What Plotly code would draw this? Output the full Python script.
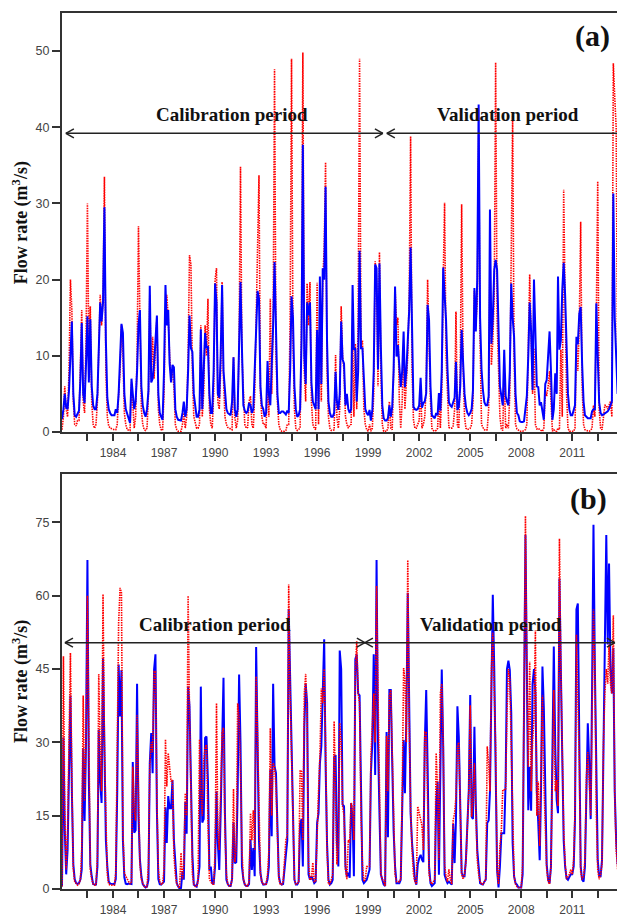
import pandas as pd
import plotly.graph_objects as go

# ---------------- data (monthly, Jan 1981 - Sep 2013) ----------------
start_month = "1981-01-01"

a_sim = [
    1.7, 3.0, 5.0, 3.2, 3.0, 5.5, 10.0, 14.5, 5.0, 2.2, 2.0, 2.5,      # 1981
    2.8, 7.0, 14.3, 5.0, 3.8, 9.0, 15.2, 6.5, 14.8, 6.0, 3.5, 3.0,     # 1982
    3.0, 5.0, 10.0, 17.0, 14.5, 17.0, 29.5, 12.0, 4.5, 3.0, 2.5, 2.2,  # 1983
    2.2, 2.2, 3.0, 2.5, 5.0, 9.0, 14.2, 13.0, 5.0, 3.0, 2.5, 1.8,      # 1984
    1.2, 7.0, 5.0, 3.0, 4.0, 8.0, 14.0, 16.0, 6.0, 3.5, 2.5, 2.0,      # 1985
    3.0, 5.5, 19.2, 6.5, 7.0, 9.0, 12.0, 15.3, 5.0, 2.5, 2.0, 1.6,     # 1986
    8.0, 19.3, 14.0, 16.0, 9.0, 6.5, 8.8, 8.5, 3.0, 2.0, 1.6, 1.5,     # 1987
    1.5, 2.5, 4.0, 2.0, 3.0, 8.0, 15.3, 11.0, 10.5, 5.0, 3.0, 2.0,     # 1988
    2.0, 3.0, 13.5, 3.0, 8.0, 13.0, 11.0, 11.3, 5.0, 2.5, 2.5, 8.0,    # 1989
    19.5, 17.0, 5.0, 4.5, 10.0, 19.3, 8.0, 5.0, 3.0, 2.5, 2.3, 2.2,    # 1990
    4.0, 9.8, 3.0, 2.0, 3.0, 10.0, 19.7, 11.0, 3.5, 2.8, 2.5, 2.7,     # 1991
    3.8, 3.5, 2.5, 3.0, 8.0, 12.0, 18.5, 17.5, 6.0, 3.5, 3.0, 2.0,     # 1992
    2.5, 9.3, 5.0, 3.5, 8.0, 14.0, 22.3, 14.5, 5.0, 2.5, 2.5, 2.7,     # 1993
    2.7, 2.5, 2.3, 2.8, 2.5, 8.0, 17.8, 15.0, 6.0, 3.0, 2.0, 2.2,      # 1994
    3.0, 12.0, 37.7, 10.0, 6.3, 17.0, 15.3, 17.0, 6.5, 4.0, 3.5, 3.0,  # 1995
    13.4, 3.0, 20.4, 6.3, 21.5, 20.0, 32.2, 12.0, 4.0, 2.5, 2.0, 2.0,  # 1996
    2.5, 7.9, 4.0, 2.9, 5.0, 14.5, 9.5, 9.0, 3.5, 5.0, 3.0, 2.5,       # 1997
    3.0, 19.3, 10.8, 11.0, 4.0, 8.0, 23.8, 11.0, 11.0, 6.0, 3.0, 2.5,  # 1998
    2.2, 2.9, 1.5, 2.9, 8.0, 22.0, 21.5, 8.2, 22.1, 11.2, 3.5, 1.8,    # 1999
    1.5, 1.5, 1.8, 3.5, 2.0, 3.3, 8.0, 19.1, 9.9, 11.4, 8.5, 5.9,      # 2000
    8.0, 13.2, 5.9, 8.0, 12.0, 16.0, 24.2, 10.8, 3.3, 3.0, 2.9, 3.0,   # 2001
    3.5, 7.1, 3.2, 3.8, 4.0, 5.1, 16.7, 14.7, 6.0, 2.2, 2.0, 1.8,      # 2002
    2.5, 2.2, 5.1, 2.8, 8.0, 21.6, 18.0, 14.7, 8.2, 3.9, 3.5, 3.3,     # 2003
    3.9, 4.5, 9.2, 2.9, 3.3, 6.0, 13.4, 9.4, 5.0, 3.3, 2.5, 2.2,       # 2004
    2.5, 3.0, 5.5, 18.9, 13.2, 20.0, 43.0, 15.0, 8.2, 5.5, 3.9, 3.5,   # 2005
    3.5, 4.7, 29.2, 11.6, 15.0, 21.3, 22.6, 21.3, 10.8, 6.0, 4.7, 3.5, # 2006
    10.8, 4.7, 4.0, 3.5, 8.0, 19.5, 15.0, 12.5, 5.0, 2.5, 2.2, 1.4,    # 2007
    1.3, 1.3, 1.4, 3.0, 4.7, 10.0, 17.0, 13.2, 5.5, 20.0, 10.8, 6.0,   # 2008
    5.9, 3.5, 3.9, 2.7, 1.6, 6.3, 6.8, 10.0, 13.2, 8.0, 1.6, 3.0,      # 2009
    7.7, 5.0, 20.4, 10.8, 12.0, 18.7, 22.2, 18.0, 12.5, 5.0, 2.9, 2.2, # 2010
    2.2, 2.9, 3.5, 12.5, 11.5, 15.5, 16.4, 9.0, 4.0, 2.2, 2.0, 1.8,    # 2011
    1.8, 1.8, 2.7, 3.0, 3.0, 16.9, 10.0, 3.9, 2.5, 2.2, 2.3, 2.4,      # 2012
    2.5, 2.7, 3.0, 3.5, 4.0, 31.3, 15.0, 10.0, 5.0,                    # 2013
]

a_obs = [
    0.3, 2.0, 6.0, 3.0, 2.0, 8.0, 20.0, 16.0, 4.0, 1.0, 0.8, 1.5,      # 1981
    1.5, 8.0, 16.0, 4.0, 2.5, 12.0, 30.0, 10.0, 16.5, 4.0, 1.0, 0.5,   # 1982
    1.0, 4.0, 10.0, 18.0, 14.0, 17.5, 33.5, 8.0, 2.0, 0.8, 0.5, 0.4,   # 1983
    0.3, 0.3, 0.3, 1.0, 5.0, 8.0, 14.0, 10.0, 2.5, 1.0, 0.3, 0.2,      # 1984
    0.2, 6.5, 3.5, 0.5, 2.0, 10.0, 27.0, 15.0, 3.0, 1.0, 0.3, 0.2,     # 1985
    0.5, 5.0, 18.0, 7.0, 12.5, 7.0, 12.0, 15.0, 3.0, 1.0, 0.3, 0.2,    # 1986
    5.0, 16.0, 18.0, 15.0, 10.0, 7.0, 8.0, 6.0, 1.0, 0.3, 0.1, 0.1,    # 1987
    0.1, 1.0, 2.5, 0.5, 2.0, 10.0, 23.2, 22.0, 8.0, 2.0, 1.0, 0.5,     # 1988
    0.5, 1.0, 14.0, 2.0, 5.0, 14.0, 10.0, 17.5, 3.0, 1.0, 0.5, 5.0,    # 1989
    20.0, 21.5, 4.0, 3.0, 8.0, 19.7, 7.0, 2.0, 1.0, 0.6, 0.5, 0.4,     # 1990
    0.3, 9.8, 2.0, 0.5, 1.5, 12.0, 34.8, 10.0, 4.0, 1.0, 0.5, 0.6,     # 1991
    4.0, 4.7, 1.0, 0.5, 5.0, 15.0, 20.0, 33.7, 5.0, 2.0, 1.0, 1.0,     # 1992
    0.5, 8.0, 2.0, 17.5, 5.0, 14.0, 47.6, 10.0, 4.0, 1.0, 0.3, 0.1,    # 1993
    0.1, 0.1, 0.2, 1.0, 1.0, 15.0, 49.0, 12.0, 3.0, 0.5, 0.2, 0.3,     # 1994
    0.5, 15.0, 49.8, 8.0, 4.0, 19.5, 14.0, 19.7, 4.0, 1.0, 0.5, 0.3,   # 1995
    19.6, 1.0, 15.0, 4.0, 20.0, 24.0, 35.4, 8.0, 2.0, 0.5, 0.2, 0.2,   # 1996
    0.3, 10.1, 2.0, 0.5, 3.0, 16.5, 10.0, 8.0, 2.0, 1.0, 0.5, 0.9,     # 1997
    1.0, 14.0, 2.0, 11.6, 3.0, 15.0, 49.0, 11.2, 12.0, 3.0, 1.0, 0.3,  # 1998
    0.1, 1.0, 0.1, 0.5, 5.0, 22.4, 20.0, 6.0, 23.6, 8.0, 1.0, 0.1,     # 1999
    0.1, 0.1, 0.5, 4.0, 0.5, 0.3, 8.0, 19.0, 14.0, 15.0, 4.0, 0.5,     # 2000
    4.0, 11.1, 3.0, 6.0, 10.0, 18.0, 38.8, 8.0, 1.5, 0.5, 0.5, 1.0,    # 2001
    1.5, 6.0, 0.5, 1.0, 2.0, 6.0, 20.0, 12.0, 4.0, 0.5, 0.2, 0.1,      # 2002
    0.2, 0.5, 4.5, 0.5, 5.0, 20.0, 30.1, 10.0, 4.0, 0.6, 0.5, 0.5,     # 2003
    0.8, 3.0, 15.8, 0.8, 0.5, 8.0, 29.9, 8.8, 2.0, 0.5, 0.3, 0.4,      # 2004
    0.5, 1.0, 4.0, 18.5, 14.2, 17.0, 39.0, 12.0, 1.0, 0.6, 0.3, 0.2,   # 2005
    0.3, 3.0, 23.0, 8.8, 12.0, 18.0, 48.5, 15.0, 8.0, 2.0, 0.4, 0.2,   # 2006
    8.0, 0.5, 1.0, 0.5, 5.0, 20.0, 41.5, 10.0, 1.0, 0.4, 0.2, 0.1,     # 2007
    0.1, 0.1, 0.2, 0.3, 1.0, 12.0, 20.7, 13.0, 5.0, 11.0, 1.0, 0.4,    # 2008
    0.5, 0.3, 0.2, 0.1, 0.5, 5.5, 4.7, 6.0, 8.0, 3.0, 0.1, 0.3,        # 2009
    0.1, 0.1, 0.5, 0.3, 10.8, 2.0, 31.8, 17.0, 5.0, 0.5, 0.1, 0.1,     # 2010
    0.1, 0.1, 0.5, 11.5, 8.0, 14.0, 27.6, 6.0, 1.0, 0.3, 0.2, 0.1,     # 2011
    0.1, 0.2, 0.5, 3.5, 2.0, 15.0, 32.9, 3.0, 0.5, 0.3, 2.5, 3.5,      # 2012
    3.5, 3.0, 3.5, 4.0, 2.0, 48.4, 44.0, 40.0, 10.0,                   # 2013
]

b_sim = [
    0.5, 31.0, 12.0, 3.0, 8.0, 25.0, 39.6, 20.0, 5.0, 2.0, 1.2, 1.0,    # 1981
    1.2, 2.0, 4.0, 28.8, 13.9, 30.0, 67.3, 22.0, 5.0, 2.6, 1.0, 0.9,    # 1982
    0.9, 4.6, 32.6, 22.0, 17.6, 47.2, 28.0, 10.0, 4.6, 1.5, 1.1, 1.0,   # 1983
    1.0, 1.0, 2.0, 20.0, 45.9, 35.3, 44.8, 10.0, 2.4, 1.1, 1.0, 1.1,    # 1984
    1.0, 1.0, 26.0, 11.5, 12.0, 42.0, 15.0, 6.0, 2.6, 1.0, 0.6, 0.3,    # 1985
    0.5, 1.9, 25.7, 31.9, 23.7, 44.9, 48.0, 16.0, 2.0, 1.0, 0.9, 1.2,   # 1986
    1.5, 16.7, 9.4, 19.0, 16.5, 16.5, 22.3, 10.0, 4.6, 1.2, 0.5, 0.1,   # 1987
    0.2, 3.6, 1.9, 17.8, 11.3, 41.4, 37.4, 22.0, 7.0, 0.9, 0.6, 0.5,    # 1988
    1.9, 4.6, 41.4, 13.6, 14.3, 30.9, 31.2, 22.0, 3.9, 4.6, 1.2, 1.0,   # 1989
    4.6, 20.0, 9.4, 3.9, 15.5, 30.0, 43.2, 15.5, 1.9, 1.0, 0.6, 0.6,    # 1990
    2.0, 13.6, 5.3, 5.5, 20.0, 43.9, 30.0, 4.6, 2.0, 0.9, 0.6, 0.6,     # 1991
    1.0, 10.1, 3.9, 8.4, 2.6, 49.5, 30.0, 10.0, 3.3, 1.5, 0.9, 1.0,     # 1992
    1.0, 2.0, 4.6, 24.4, 10.8, 42.0, 25.1, 23.7, 12.0, 2.6, 1.2, 0.9,   # 1993
    1.0, 4.6, 6.7, 10.0, 57.3, 43.0, 25.0, 15.5, 1.9, 0.9, 0.9, 1.5,    # 1994
    13.3, 14.3, 4.6, 33.0, 42.0, 38.0, 3.0, 1.9, 2.6, 2.0, 1.2, 1.5,    # 1995
    13.5, 15.5, 25.7, 29.2, 41.4, 51.1, 25.7, 9.4, 1.9, 0.9, 1.2, 1.9,  # 1996
    27.0, 27.4, 9.4, 4.6, 48.8, 45.0, 17.3, 16.9, 4.6, 2.6, 3.3, 2.3,   # 1997
    17.6, 14.3, 2.6, 47.0, 48.0, 40.0, 39.6, 22.3, 1.9, 1.2, 1.5, 1.9,  # 1998
    2.9, 4.0, 23.7, 30.0, 48.0, 23.3, 67.3, 30.0, 15.5, 3.0, 1.9, 0.9,  # 1999
    0.6, 32.1, 10.6, 40.7, 40.7, 25.7, 12.0, 4.6, 1.2, 1.2, 1.2, 1.9,   # 2000
    18.9, 30.5, 19.6, 35.0, 60.6, 30.0, 15.5, 9.4, 4.6, 1.9, 0.9, 5.0,  # 2001
    6.3, 7.0, 6.0, 5.5, 29.8, 40.7, 25.0, 4.6, 1.2, 0.6, 0.9, 1.2,      # 2002
    17.6, 22.0, 2.9, 30.0, 44.9, 29.2, 2.9, 1.9, 1.2, 1.5, 1.2, 0.9,    # 2003
    13.3, 5.3, 14.3, 37.4, 31.2, 14.3, 3.3, 2.6, 2.6, 6.0, 14.3, 20.0,  # 2004
    39.7, 14.8, 14.3, 33.2, 17.5, 8.0, 4.6, 1.2, 1.0, 0.9, 1.5, 1.9,    # 2005
    13.5, 14.0, 20.0, 45.0, 60.2, 45.0, 18.9, 3.9, 0.3, 4.6, 11.4, 11.4,# 2006
    11.4, 22.3, 45.0, 46.7, 44.8, 36.0, 9.4, 2.6, 1.2, 0.9, 0.3, 0.3,   # 2007
    0.3, 3.0, 30.0, 72.4, 45.0, 16.1, 25.0, 16.0, 42.0, 45.0, 40.0, 20.0,  # 2008
    13.5, 5.9, 20.0, 45.5, 37.0, 15.5, 5.0, 1.9, 1.2, 4.6, 30.0, 49.6,  # 2009
    29.0, 18.2, 15.5, 63.5, 45.0, 22.3, 10.0, 4.6, 2.2, 1.9, 2.6, 3.0,  # 2010
    3.0, 4.6, 14.3, 57.2, 58.4, 29.2, 4.6, 1.9, 1.5, 4.6, 20.9, 33.9,   # 2011
    25.7, 14.3, 40.0, 74.5, 45.0, 22.3, 5.9, 2.6, 2.6, 5.9, 29.8, 45.0, # 2012
    72.4, 50.0, 66.6, 45.0, 40.0, 49.3, 20.0, 10.0, 5.0,                # 2013
]

b_obs = [
    0.5, 47.6, 15.0, 4.0, 12.0, 35.0, 48.3, 22.0, 4.0, 1.5, 1.0, 0.8,   # 1981
    1.0, 2.0, 8.0, 39.6, 18.0, 30.0, 60.0, 25.0, 4.0, 2.0, 1.0, 0.8,    # 1982
    0.8, 6.7, 44.0, 27.8, 20.0, 60.3, 30.0, 15.0, 3.0, 1.0, 0.8, 0.8,   # 1983
    0.8, 0.8, 3.3, 30.0, 54.5, 61.6, 60.6, 12.0, 3.3, 2.6, 2.0, 1.5,    # 1984
    1.0, 1.5, 25.0, 16.0, 14.0, 35.6, 20.0, 5.0, 2.0, 1.0, 0.5, 0.3,    # 1985
    0.5, 5.0, 25.0, 30.0, 28.0, 44.5, 44.5, 18.0, 4.0, 1.5, 1.0, 1.0,   # 1986
    4.0, 30.6, 21.0, 27.8, 24.3, 22.0, 22.3, 7.0, 3.0, 1.0, 0.5, 0.2,   # 1987
    7.4, 2.0, 5.0, 19.6, 15.0, 60.0, 36.0, 15.0, 3.0, 1.0, 0.5, 0.5,    # 1988
    1.5, 30.6, 20.0, 15.0, 26.0, 29.0, 29.5, 14.0, 2.0, 1.5, 1.0, 1.0,  # 1989
    7.4, 38.0, 12.0, 8.0, 20.0, 32.0, 33.0, 12.0, 3.0, 1.0, 0.6, 0.6,   # 1990
    2.0, 20.5, 5.5, 8.0, 38.0, 35.0, 25.0, 8.0, 2.0, 1.0, 0.6, 0.6,     # 1991
    1.5, 15.5, 10.0, 16.1, 8.0, 43.5, 32.0, 15.0, 3.0, 1.5, 1.0, 1.0,   # 1992
    1.0, 3.0, 7.8, 32.9, 15.0, 25.8, 25.0, 20.9, 10.0, 2.0, 1.0, 0.9,   # 1993
    1.5, 6.0, 10.0, 11.0, 62.3, 40.0, 28.0, 12.0, 2.0, 1.0, 1.0, 1.5,   # 1994
    24.3, 24.0, 10.0, 40.0, 44.0, 35.0, 5.0, 2.0, 2.0, 5.4, 1.5, 1.5,   # 1995
    14.0, 20.0, 27.0, 41.0, 38.0, 45.0, 30.0, 8.0, 1.0, 1.0, 1.9, 3.0,  # 1996
    34.3, 20.0, 5.0, 9.0, 34.0, 30.0, 17.0, 15.0, 4.0, 2.0, 10.0, 9.5,  # 1997
    17.6, 16.5, 10.0, 45.0, 50.7, 40.0, 38.0, 15.0, 5.0, 1.5, 2.0, 4.6, # 1998
    4.6, 4.6, 27.0, 35.0, 40.0, 30.0, 62.0, 40.7, 20.9, 3.0, 2.0, 1.5,  # 1999
    0.6, 31.3, 20.0, 39.6, 40.7, 29.0, 12.0, 3.0, 1.5, 1.5, 1.5, 2.0,   # 2000
    18.9, 45.2, 43.0, 30.0, 67.3, 35.0, 16.0, 8.0, 3.0, 1.5, 1.0, 16.9, # 2001
    15.5, 14.3, 13.0, 8.0, 32.1, 32.0, 20.0, 3.0, 1.5, 1.0, 1.5, 1.9,   # 2002
    27.8, 20.0, 6.0, 40.0, 42.0, 30.0, 5.0, 2.5, 1.5, 4.0, 2.0, 1.0,    # 2003
    14.0, 15.5, 18.9, 29.2, 30.0, 12.0, 3.0, 2.0, 3.0, 5.5, 14.5, 20.0, # 2004
    37.6, 14.8, 18.0, 25.7, 16.0, 6.0, 3.0, 1.5, 1.0, 1.0, 1.5, 2.0,    # 2005
    29.2, 25.7, 20.0, 45.0, 52.4, 40.0, 29.2, 4.0, 1.0, 8.8, 12.0, 20.3,# 2006
    20.3, 20.3, 36.0, 45.0, 43.0, 28.0, 15.5, 2.6, 1.0, 0.5, 0.3, 0.3,  # 2007
    0.3, 5.0, 35.0, 76.3, 45.0, 25.0, 46.5, 20.0, 30.0, 35.0, 52.9, 15.0,  # 2008
    22.0, 8.8, 25.0, 39.6, 22.0, 10.0, 4.0, 1.5, 1.0, 4.6, 25.0, 40.7,  # 2009
    20.0, 22.3, 17.0, 71.7, 45.0, 25.7, 12.0, 5.3, 2.0, 2.5, 3.0, 4.0,  # 2010
    3.0, 5.9, 16.0, 52.0, 40.0, 25.7, 3.5, 2.0, 2.5, 6.0, 23.0, 28.0,   # 2011
    22.0, 15.0, 35.0, 57.2, 45.0, 15.5, 4.0, 2.0, 3.0, 5.0, 29.8, 40.0, # 2012
    45.0, 42.0, 50.0, 42.0, 40.0, 56.0, 20.0, 8.0, 4.0,                 # 2013
]

tick_years = [1984, 1987, 1990, 1993, 1996, 1999, 2002, 2005, 2008, 2011]

# calibration / validation periods (date, y level of the arrow) for each panel
a_arrow_y = 39.2
a_cal = ("1981-03-25", "1999-11-14")
a_val = ("2000-02-06", "2013-08-25")
b_arrow_y = 50.4
b_cal = ("1981-03-05", "1998-10-23")
b_val = ("1998-10-23", "2013-07-05")

# ---------------- figure ----------------
dates = pd.date_range(start_month, periods=len(a_sim), freq="MS")

RED = "#ff0000"
BLUE = "#0000ff"
SERIF = "Liberation Serif, Times New Roman, serif"
SANS = "Liberation Sans, Arial, sans-serif"

fig = go.Figure()
# panel (a): red below, blue on top
fig.add_trace(go.Scatter(x=dates, y=a_obs, mode="lines", xaxis="x", yaxis="y",
                         line=dict(color=RED, width=1.6, dash="1.5px,1px"), showlegend=False))
fig.add_trace(go.Scatter(x=dates, y=a_sim, mode="lines", xaxis="x", yaxis="y",
                         line=dict(color=BLUE, width=2), showlegend=False))
# panel (b): blue below, red on top
fig.add_trace(go.Scatter(x=dates, y=b_sim, mode="lines", xaxis="x2", yaxis="y2",
                         line=dict(color=BLUE, width=2), showlegend=False))
fig.add_trace(go.Scatter(x=dates, y=b_obs, mode="lines", xaxis="x2", yaxis="y2",
                         line=dict(color=RED, width=1.6, dash="1.5px,1px"), showlegend=False))

# labelled ticks every 3 years, unlabelled (minor) ticks half-way between
tickvals = [f"{yr}-01-01" for yr in tick_years]
ticktext = [str(yr) for yr in tick_years]
minor_vals = [f"{yr - 2}-07-01" for yr in tick_years] + [f"{tick_years[-1] + 1}-07-01"]

xrange = ["1981-01-01", "2013-08-19"]
xcommon = dict(type="date", range=xrange, tickmode="array", tickvals=tickvals, ticktext=ticktext,
               showline=True, linecolor="#333", linewidth=2, mirror=True,
               ticks="outside", ticklen=7, tickwidth=2, tickcolor="#333",
               ticklabelstandoff=2, automargin=False,
               minor=dict(tickmode="array", tickvals=minor_vals, ticks="outside",
                          ticklen=7, tickwidth=2, tickcolor="#333", showgrid=False),
               showgrid=False, zeroline=False,
               tickfont=dict(family=SANS, size=12, color="#444"))
ycommon = dict(showline=True, linecolor="#333", linewidth=2, mirror=False,
               ticks="outside", ticklen=8, tickwidth=2, tickcolor="#333",
               automargin=False,
               showgrid=False, zeroline=False,
               tickfont=dict(family=SANS, size=12.5, color="#444"))

fig.update_layout(
    width=617, height=917,
    margin=dict(l=62, r=0, t=13, b=28),
    paper_bgcolor="white", plot_bgcolor="white",
    xaxis=dict(**xcommon, anchor="y"),
    yaxis=dict(**ycommon, domain=[0.5217, 1.0], range=[0, 55], tickvals=[0, 10, 20, 30, 40, 50], anchor="x"),
    xaxis2=dict(**xcommon, anchor="y2"),
    yaxis2=dict(**ycommon, domain=[0.0, 0.4743], range=[0, 85], tickvals=[0, 15, 30, 45, 60, 75], anchor="x2"),
)

ARW = dict(color="#222", width=1.5)


def arrow_shapes(xr, yr, x0, x1, y, head_left, head_right):
    shp = [dict(type="line", xref=xr, yref=yr, x0=x0, x1=x1, y0=y, y1=y, line=ARW)]
    heads = []
    if head_left:
        heads.append((x0, 1))
    if head_right:
        heads.append((x1, -1))
    for xa, d in heads:
        for s in (1, -1):
            shp.append(dict(type="line", xref=xr, yref=yr, xsizemode="pixel", ysizemode="pixel",
                            xanchor=xa, yanchor=y, x0=0, y0=0, x1=d * 8, y1=s * 4.5, line=ARW))
    return shp


shapes = []
shapes += arrow_shapes("x", "y", a_cal[0], a_cal[1], a_arrow_y, True, True)
shapes += arrow_shapes("x", "y", a_val[0], a_val[1], a_arrow_y, True, False)
shapes += arrow_shapes("x2", "y2", b_cal[0], b_cal[1], b_arrow_y, True, True)
shapes += arrow_shapes("x2", "y2", b_val[0], b_val[1], b_arrow_y, True, True)
fig.update_layout(shapes=shapes)

label_font = dict(family=SERIF, size=19, color="#111")
ann = [
    dict(text="<b>Calibration period</b>", x=0.3072, y=0.8847, font=label_font),
    dict(text="<b>Validation period</b>", x=0.8041, y=0.8847, font=label_font),
    dict(text="<b>Calibration period</b>", x=0.2762, y=0.3022, font=label_font),
    dict(text="<b>Validation period</b>", x=0.7724, y=0.3022, font=label_font),
    dict(text="<b>(a)</b>", x=0.956, y=0.9743, font=dict(family=SERIF, size=30, color="#111")),
    dict(text="<b>(b)</b>", x=0.9495, y=0.4452, font=dict(family=SERIF, size=30, color="#111")),
    dict(text="<b>Flow rate (m<sup>3</sup>/s)</b>", x=-0.0739, y=0.761, textangle=-90,
         font=dict(family=SERIF, size=18, color="#111")),
    dict(text="<b>Flow rate (m<sup>3</sup>/s)</b>", x=-0.0739, y=0.2374, textangle=-90,
         font=dict(family=SERIF, size=18, color="#111")),
]
for a in ann:
    a.update(xref="paper", yref="paper", showarrow=False, xanchor="center", yanchor="middle")
fig.update_layout(annotations=ann)

fig.write_html("out.html")
